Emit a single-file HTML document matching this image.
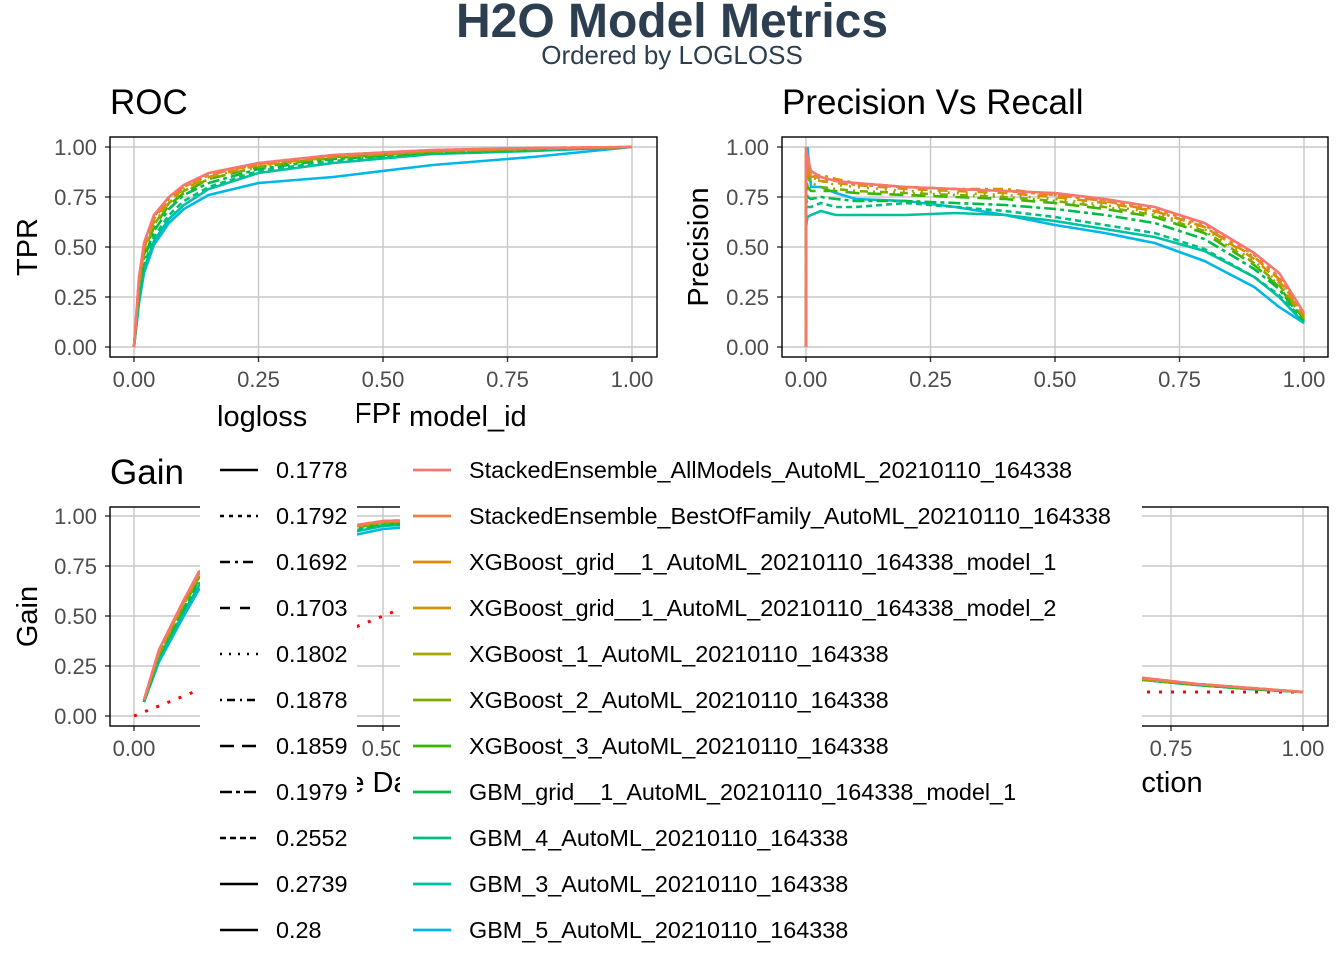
<!DOCTYPE html>
<html><head><meta charset="utf-8"><style>
body{margin:0;background:#fff;width:1344px;height:960px;overflow:hidden;position:relative;font-family:"Liberation Sans",sans-serif}
svg{position:absolute;left:0;top:0}
.lg{position:absolute;background:#fff}
.lt{position:absolute;font-size:29px;color:#000}
.li{position:absolute;font-size:23.4px;color:#000;height:46px;line-height:46px;white-space:nowrap}
</style></head><body>
<svg id="chart" width="1344" height="960"></svg>

<div class="lg" style="left:200px;top:395px;width:157px;height:560px">
 <div class="lt" style="left:17px;top:6px">logloss</div>
 <div id="ll"></div>
</div>
<div class="lg" style="left:400px;top:395px;width:742px;height:560px">
 <div class="lt" style="left:9px;top:6px">model_id</div>
 <div id="ml"></div>
</div>

<script>
const models=["StackedEnsemble_AllModels_AutoML_20210110_164338","StackedEnsemble_BestOfFamily_AutoML_20210110_164338","XGBoost_grid__1_AutoML_20210110_164338_model_1","XGBoost_grid__1_AutoML_20210110_164338_model_2","XGBoost_1_AutoML_20210110_164338","XGBoost_2_AutoML_20210110_164338","XGBoost_3_AutoML_20210110_164338","GBM_grid__1_AutoML_20210110_164338_model_1","GBM_4_AutoML_20210110_164338","GBM_3_AutoML_20210110_164338","GBM_5_AutoML_20210110_164338"];
const loglossLabels=["0.1778","0.1792","0.1692","0.1703","0.1802","0.1878","0.1859","0.1979","0.2552","0.2739","0.28"];
const xTicks=[0,0.25,0.5,0.75,1];
const yTicks=[0,0.25,0.5,0.75,1];
const rocFpr=[0,0.01,0.02,0.04,0.07,0.1,0.15,0.25,0.4,0.6,0.8,1];
const rocTpr=[
[0,0.35,0.52,0.66,0.75,0.81,0.87,0.92,0.96,0.985,0.995,1],
[0,0.34,0.51,0.65,0.75,0.80,0.86,0.92,0.96,0.985,0.995,1],
[0,0.33,0.50,0.64,0.74,0.80,0.86,0.915,0.955,0.98,0.995,1],
[0,0.32,0.49,0.63,0.73,0.79,0.85,0.91,0.95,0.98,0.99,1],
[0,0.31,0.48,0.62,0.72,0.79,0.85,0.91,0.95,0.98,0.99,1],
[0,0.30,0.47,0.61,0.72,0.78,0.84,0.90,0.95,0.975,0.99,1],
[0,0.29,0.46,0.60,0.71,0.77,0.84,0.90,0.945,0.975,0.99,1],
[0,0.27,0.44,0.58,0.69,0.76,0.82,0.89,0.94,0.97,0.985,1],
[0,0.25,0.41,0.55,0.66,0.73,0.80,0.88,0.93,0.97,0.985,1],
[0,0.23,0.39,0.53,0.64,0.71,0.79,0.87,0.92,0.965,0.98,1],
[0,0.22,0.37,0.51,0.62,0.69,0.76,0.82,0.85,0.91,0.95,1]];
const prRecall=[0,0,0.003,0.01,0.03,0.06,0.1,0.2,0.3,0.4,0.5,0.6,0.7,0.8,0.9,0.95,1];
const prPrecision=[
[0,1,0.95,0.88,0.85,0.83,0.82,0.80,0.79,0.78,0.77,0.74,0.70,0.62,0.47,0.37,0.17],
[0,1,0.92,0.86,0.84,0.83,0.81,0.80,0.79,0.78,0.76,0.73,0.69,0.61,0.46,0.35,0.16],
[0,1,0.9,0.85,0.86,0.84,0.82,0.80,0.79,0.79,0.76,0.73,0.68,0.60,0.45,0.34,0.16],
[0,0.95,0.88,0.84,0.83,0.82,0.81,0.79,0.78,0.77,0.75,0.72,0.68,0.60,0.44,0.33,0.15],
[0,1,0.9,0.85,0.83,0.81,0.80,0.78,0.77,0.76,0.74,0.71,0.67,0.59,0.43,0.32,0.15],
[0,0.9,0.85,0.82,0.80,0.79,0.78,0.77,0.76,0.75,0.73,0.70,0.66,0.58,0.42,0.31,0.14],
[0,0.85,0.8,0.78,0.78,0.78,0.77,0.76,0.75,0.74,0.72,0.69,0.65,0.57,0.41,0.30,0.14],
[0,0.8,0.75,0.74,0.75,0.74,0.73,0.73,0.72,0.71,0.69,0.66,0.62,0.54,0.39,0.29,0.13],
[0,0.75,0.7,0.70,0.72,0.70,0.70,0.72,0.70,0.68,0.65,0.61,0.57,0.49,0.35,0.26,0.13],
[0,0.6,0.65,0.66,0.68,0.66,0.66,0.66,0.67,0.66,0.63,0.59,0.55,0.48,0.35,0.25,0.12],
[0,0.9,1.0,0.8,0.80,0.77,0.74,0.73,0.70,0.66,0.61,0.57,0.52,0.43,0.30,0.20,0.12]];
const gainFraction=[0.02,0.05,0.1,0.13,0.2,0.3,0.5,0.75,1];
const gainValues=[
[0.08,0.33,0.58,0.72,0.82,0.90,0.975,0.995,1],
[0.08,0.33,0.58,0.71,0.82,0.90,0.975,0.995,1],
[0.08,0.32,0.57,0.71,0.81,0.89,0.97,0.99,1],
[0.08,0.32,0.57,0.70,0.81,0.89,0.97,0.99,1],
[0.08,0.31,0.56,0.70,0.80,0.89,0.97,0.99,1],
[0.08,0.31,0.56,0.69,0.80,0.88,0.965,0.99,1],
[0.08,0.30,0.55,0.69,0.79,0.88,0.965,0.99,1],
[0.07,0.30,0.54,0.68,0.78,0.87,0.96,0.99,1],
[0.07,0.29,0.53,0.66,0.77,0.86,0.955,0.985,1],
[0.07,0.28,0.52,0.65,0.76,0.85,0.95,0.985,1],
[0.07,0.27,0.50,0.63,0.74,0.83,0.935,0.98,1]];
const baseFraction=[0,0.05,0.1,0.2,0.5,1];
const baseGain=[0,0.05,0.1,0.2,0.5,1];
const respFraction=[0.02,0.1,0.2,0.4,0.6,0.7,0.8,0.9,1];
const respValues=[
[0.95,0.72,0.52,0.32,0.22,0.19,0.16,0.14,0.12],
[0.95,0.72,0.52,0.32,0.22,0.19,0.16,0.14,0.12],
[0.94,0.71,0.51,0.31,0.22,0.185,0.16,0.14,0.12],
[0.94,0.71,0.51,0.31,0.22,0.185,0.16,0.14,0.12],
[0.93,0.70,0.50,0.31,0.21,0.18,0.16,0.14,0.12],
[0.93,0.70,0.50,0.30,0.21,0.18,0.16,0.14,0.12],
[0.92,0.69,0.49,0.30,0.21,0.18,0.155,0.135,0.12],
[0.92,0.68,0.49,0.30,0.21,0.18,0.155,0.135,0.12],
[0.90,0.67,0.48,0.29,0.21,0.18,0.155,0.135,0.12],
[0.89,0.66,0.47,0.29,0.21,0.18,0.155,0.135,0.12],
[0.88,0.65,0.46,0.29,0.21,0.18,0.155,0.135,0.12]];
const respBaseFraction=[0,1];
const respBase=[0.12,0.12];

const colors=["#F8766D","#EC8239","#E08B00","#CD9600","#ABA300","#7CAE00","#39B600","#00BB4E","#00BF7D","#00C1A3","#00B8E7"];
const dashes=["","4,5","10,5,3,5","10,10","2,7","2,5,8,5","14,8","12,4,4,4","6,4","",""];

const NS="http://www.w3.org/2000/svg";
const svg=document.getElementById('chart');
function mk(tag,parent){const e=document.createElementNS(NS,tag);parent.appendChild(e);return e;}
function txt(parent,x,y,s,size,anchor,fill,weight){const t=mk('text',parent);t.setAttribute('x',x);t.setAttribute('y',y);t.setAttribute('font-size',size);t.setAttribute('text-anchor',anchor||'start');t.setAttribute('fill',fill||'#000');if(weight)t.setAttribute('font-weight',weight);t.setAttribute('font-family','Liberation Sans, sans-serif');t.textContent=s;return t;}

const T1=txt(svg,672,37,"H2O Model Metrics",48,'middle','#2C3E50','bold');


const T2=txt(svg,672,64,"Ordered by LOGLOSS",26,'middle','#2C3E50');



function panel(cfg){
  const g=mk('g',svg);
  
  
  const sx=v=>cfg.x0+(cfg.x1-cfg.x0)*v, sy=v=>cfg.y0-(cfg.y0-cfg.y1)*v;
  const cid='clip-'+cfg.name;
  const cp=mk('clipPath',g);cp.setAttribute('id',cid);
  const cr=mk('rect',cp);cr.setAttribute('x',cfg.bx);cr.setAttribute('y',cfg.by);cr.setAttribute('width',cfg.bw);cr.setAttribute('height',cfg.bh);
  xTicks.forEach(v=>{const l=mk('line',g);l.setAttribute('x1',sx(v));l.setAttribute('x2',sx(v));l.setAttribute('y1',cfg.by);l.setAttribute('y2',cfg.by+cfg.bh);l.setAttribute('stroke','#C8C8C8');l.setAttribute('stroke-width',1.4);
    
    
    const tk=mk('line',g);tk.setAttribute('x1',sx(v));tk.setAttribute('x2',sx(v));tk.setAttribute('y1',cfg.by+cfg.bh);tk.setAttribute('y2',cfg.by+cfg.bh+5);tk.setAttribute('stroke','#333');tk.setAttribute('stroke-width',1.4);
    const t=txt(g,sx(v),cfg.by+cfg.bh+30,v.toFixed(2),22,'middle','#4D4D4D');
    
    });
  yTicks.forEach(v=>{const l=mk('line',g);l.setAttribute('y1',sy(v));l.setAttribute('y2',sy(v));l.setAttribute('x1',cfg.bx);l.setAttribute('x2',cfg.bx+cfg.bw);l.setAttribute('stroke','#C8C8C8');l.setAttribute('stroke-width',1.4);
    
    
    const tk=mk('line',g);tk.setAttribute('y1',sy(v));tk.setAttribute('y2',sy(v));tk.setAttribute('x1',cfg.bx-5);tk.setAttribute('x2',cfg.bx);tk.setAttribute('stroke','#333');tk.setAttribute('stroke-width',1.4);
    const t=txt(g,cfg.bx-13,sy(v)+8,v.toFixed(2),22,'end','#4D4D4D');
    
    });
  const series=mk('g',g);series.setAttribute('clip-path','url(#'+cid+')');
  if(cfg.base){const p=mk('path',series);p.setAttribute('d',cfg.base[0].map((x,i)=>(i?'L':'M')+sx(x)+','+sy(cfg.base[1][i])).join(''));p.setAttribute('fill','none');p.setAttribute('stroke','#FF0000');p.setAttribute('stroke-width',3);p.setAttribute('stroke-dasharray','3,9');
    
    }
  for(let m=cfg.ys.length-1;m>=0;m--){
    const p=mk('path',series);
    p.setAttribute('d',cfg.xs.map((x,i)=>(i?'L':'M')+sx(x).toFixed(1)+','+sy(cfg.ys[m][i]).toFixed(1)).join(''));
    p.setAttribute('fill','none');p.setAttribute('stroke',colors[m]);p.setAttribute('stroke-width',2.6);
    if(dashes[m])p.setAttribute('stroke-dasharray',dashes[m]);
    
    
  }
  const b=mk('rect',g);b.setAttribute('x',cfg.bx);b.setAttribute('y',cfg.by);b.setAttribute('width',cfg.bw);b.setAttribute('height',cfg.bh);b.setAttribute('fill','none');b.setAttribute('stroke','#000');b.setAttribute('stroke-width',1.4);
  
  
  const tt=txt(g,cfg.bx,cfg.by-23,cfg.title,35,'start','#000');
  
  
  const xl=txt(g,(cfg.x0+cfg.x1)/2,cfg.by+cfg.bh+66,cfg.xlab,29,'middle','#000');
  
  
  const yl=txt(g,0,0,cfg.ylab,29,'middle','#000');
  yl.setAttribute('transform','translate('+cfg.ylx+','+(cfg.by+cfg.bh/2)+') rotate(-90)');
  
  
}
panel({name:'roc-panel',title:'ROC',xlab:'FPR',ylab:'TPR',ylx:37,bx:110,by:137,bw:547,bh:220,x0:134,x1:632,y0:347,y1:147,xs:rocFpr,ys:rocTpr});
panel({name:'precision-recall-panel',title:'Precision Vs Recall',xlab:'Recall',ylab:'Precision',ylx:708,bx:782,by:137,bw:546,bh:220,x0:806,x1:1304,y0:347,y1:147,xs:prRecall,ys:prPrecision});
panel({name:'gain-panel',title:'Gain',xlab:'Cumulative Data Fraction',ylab:'Gain',ylx:37,bx:110,by:507,bw:547,bh:219,x0:134,x1:632,y0:716,y1:516,xs:gainFraction,ys:gainValues,base:[baseFraction,baseGain]});
panel({name:'response-panel',title:'Response',xlab:'Cumulative Data Fraction',ylab:'Response',ylx:700,bx:751,by:507,bw:577,bh:219,x0:775,x1:1303,y0:716,y1:516,xs:respFraction,ys:respValues,base:[respBaseFraction,respBase]});

const ll=document.getElementById('ll'), ml=document.getElementById('ml');
loglossLabels.forEach((s,i)=>{
  const d=document.createElement('div');d.className='li';d.style.left='20px';d.style.top=(52+46*i)+'px';
  d.innerHTML='<svg width="38" height="46" style="position:relative;vertical-align:top;display:inline-block"><line x1="0" x2="38" y1="23" y2="23" stroke="#000" stroke-width="2.6" stroke-dasharray="'+dashes[i]+'"/></svg><span style="position:absolute;left:56px;top:0">'+s+'</span>';
  
  
  ll.appendChild(d);
});
models.forEach((s,i)=>{
  const d=document.createElement('div');d.className='li';d.style.left='13px';d.style.top=(52+46*i)+'px';
  d.innerHTML='<svg width="38" height="46" style="position:relative;vertical-align:top;display:inline-block"><line x1="0" x2="38" y1="23" y2="23" stroke="'+colors[i]+'" stroke-width="2.8"/></svg><span style="position:absolute;left:56px;top:0">'+s+'</span>';
  
  
  ml.appendChild(d);
});
</script>
</body></html>
